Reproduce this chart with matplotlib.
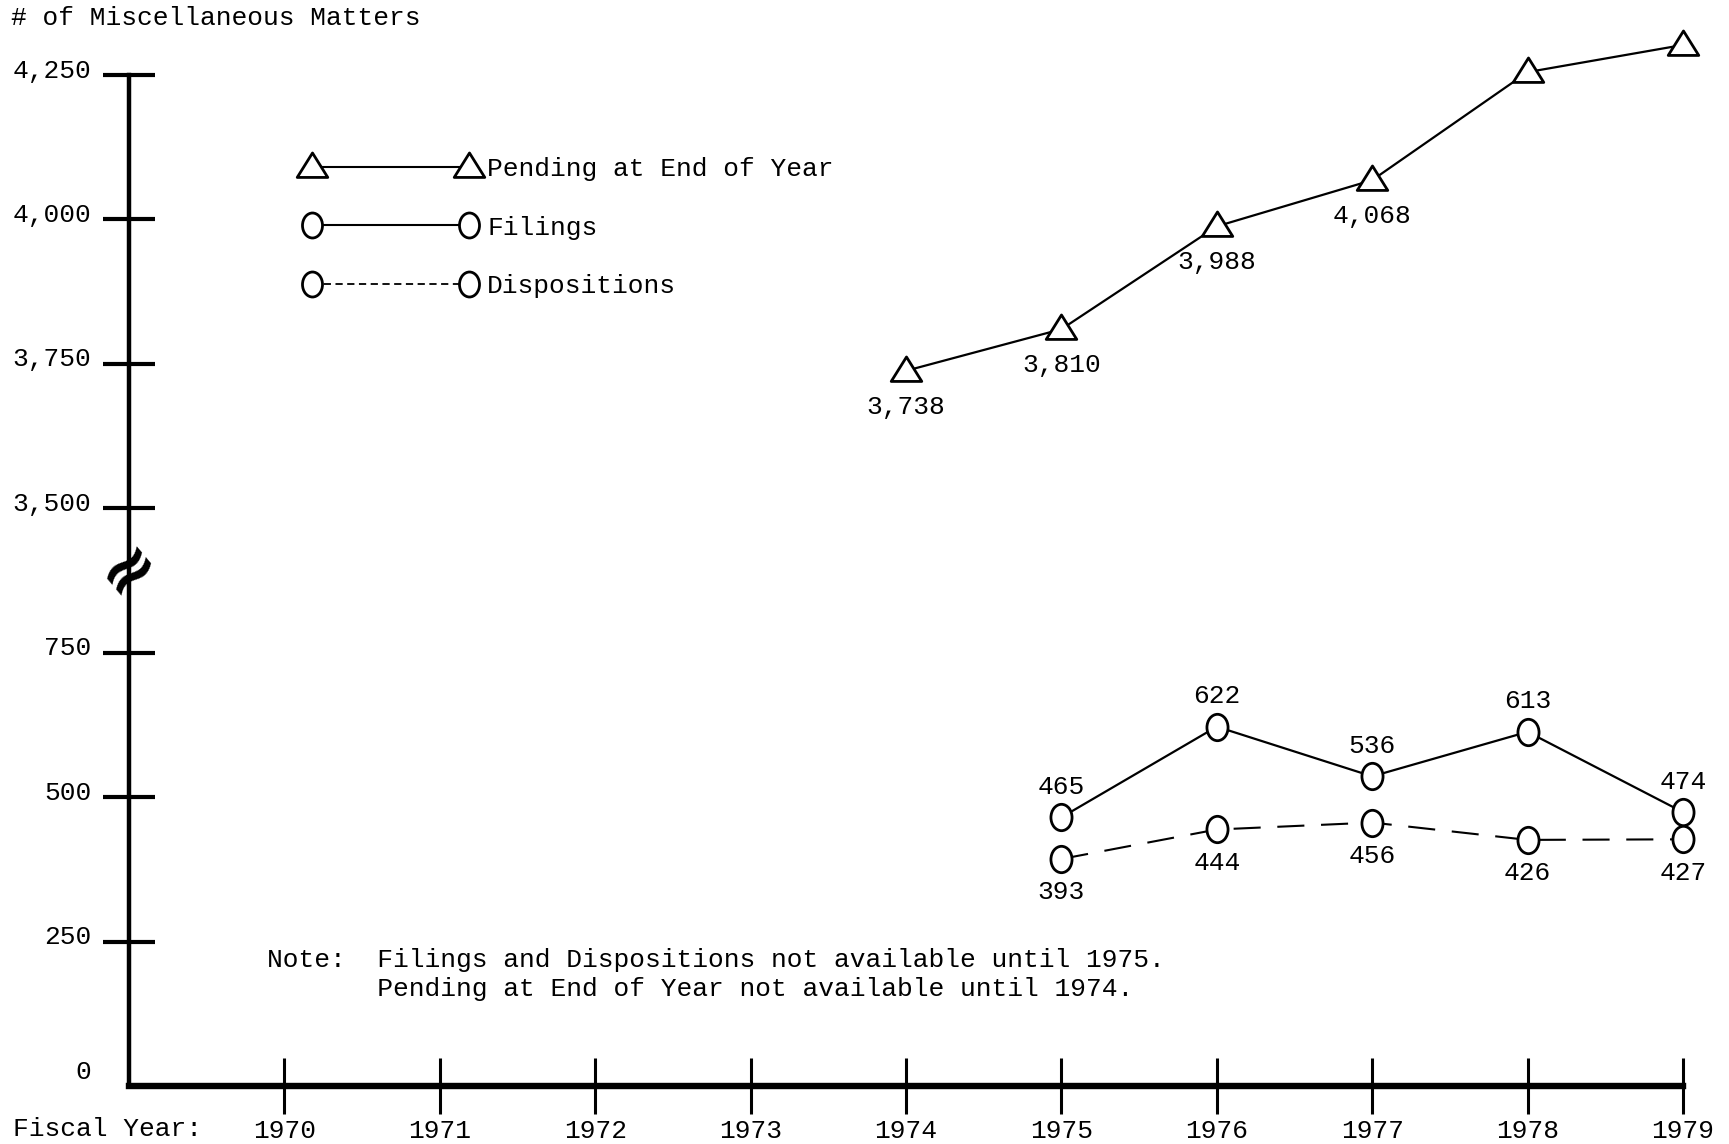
import numpy as np
import matplotlib
matplotlib.use("Agg")
import matplotlib.pyplot as plt
from matplotlib.lines import Line2D
from matplotlib.path import Path
from matplotlib.transforms import ScaledTranslation

# --- data ---
years = [1970, 1971, 1972, 1973, 1974, 1975, 1976, 1977, 1978, 1979]
pending_years = [1974, 1975, 1976, 1977, 1978, 1979]
pending = [3738, 3810, 3988, 4068, 4255, 4302]
fd_years = [1975, 1976, 1977, 1978, 1979]
filings = [465, 622, 536, 613, 474]
dispositions = [393, 444, 456, 426, 427]
ytick_values = [0, 250, 500, 750, 3500, 3750, 4000, 4250]

# values above the break are shifted down so 3,500 sits one step above 750
BREAK_OFFSET = 2500


def to_axis(v):
    return v if v < 1000 else v - BREAK_OFFSET


plt.rcParams["font.family"] = ["Liberation Mono", "DejaVu Sans"]
FS = 18.9

fig = plt.figure(figsize=(17.29, 11.44), dpi=100)
ax = fig.add_axes([129 / 1729, 1 - 1086 / 1144, (1683 - 129) / 1729, (1086 - 75) / 1144])
ax.set_xlim(1969, 1979)
ax.set_ylim(0, 1750)

for s in ("top", "right"):
    ax.spines[s].set_visible(False)
ax.spines["left"].set_linewidth(3.2)
ax.spines["bottom"].set_linewidth(4.6)

# markers: flat open triangle, slightly tall oval
tri = Path([(-1, -0.65), (1, -0.65), (0, 0.95), (-1, -0.65)],
           [Path.MOVETO, Path.LINETO, Path.LINETO, Path.CLOSEPOLY])
circ = Path.unit_circle()
oval = Path(circ.vertices * np.array([0.8, 1.0]), circ.codes)

common = dict(color="black", mfc="white", mec="black", mew=2.0, clip_on=False)
ax.plot(pending_years, [to_axis(v) for v in pending], lw=1.6, marker=tri, ms=22,
        zorder=3, **common)
ax.plot(fd_years, filings, lw=1.6, marker=oval, ms=19, zorder=3, **common)
ax.plot(fd_years, dispositions, lw=1.5, ls=(0, (13, 8)), marker=oval, ms=19,
        zorder=3, **common)

# value labels
for x, v in zip(pending_years, pending):
    ax.annotate(f"{v:,}", (x, to_axis(v)), xytext=(0, -26), textcoords="offset points",
                ha="center", va="center", fontsize=FS)
for x, v in zip(fd_years, filings):
    ax.annotate(f"{v}", (x, v), xytext=(0, 22), textcoords="offset points",
                ha="center", va="center", fontsize=FS)
for x, v in zip(fd_years, dispositions):
    ax.annotate(f"{v}", (x, v), xytext=(0, -24), textcoords="offset points",
                ha="center", va="center", fontsize=FS)

# ticks
ax.set_xticks(years)
ax.set_xticklabels([str(y) for y in years], fontsize=FS)
ax.tick_params(axis="x", direction="inout", length=40, width=2.2, pad=4)
ax.set_yticks([to_axis(v) for v in ytick_values])
ax.set_yticklabels([f"{v:,}" for v in ytick_values], fontsize=FS)
ax.tick_params(axis="y", direction="inout", length=38, width=3.0, pad=8)
ax.yaxis.get_major_ticks()[0].tick1line.set_visible(False)
for i, lab in enumerate(ax.get_yticklabels()):
    lift = ScaledTranslation(0, (12 if i == 0 else 5) / 72, fig.dpi_scale_trans)
    lab.set_transform(lab.get_transform() + lift)

# axis break mark
ax.text(1969, 897, "≈", family="DejaVu Sans", fontsize=50, fontweight="bold",
        rotation=40, ha="center", va="center", clip_on=False, zorder=4)

# legend
handles = [
    Line2D([], [], lw=1.5, marker=tri, ms=22, color="black", mfc="white", mec="black", mew=2.0),
    Line2D([], [], lw=1.5, marker=oval, ms=18, color="black", mfc="white", mec="black", mew=2.0),
    Line2D([], [], lw=1.3, ls=(0, (4, 2.5)), marker=oval, ms=18, color="black",
           mfc="white", mec="black", mew=2.0),
]
ax.legend(handles, ["Pending at End of Year", "Filings", "Dispositions"],
          loc="upper left", bbox_to_anchor=(304 / 1729, 1 - 157 / 1144),
          bbox_transform=fig.transFigure, frameon=False, numpoints=2,
          handlelength=6.6, handletextpad=0.38, labelspacing=1.32,
          borderpad=0, borderaxespad=0, fontsize=FS)

# note
ax.text(1969.89, 193,
        "Note:  Filings and Dispositions not available until 1975.\n"
        "       Pending at End of Year not available until 1974.",
        fontsize=FS, ha="left", va="center", linespacing=1.3)

fig.text(11 / 1729, 1 - 18 / 1144, "# of Miscellaneous Matters", fontsize=FS,
         ha="left", va="center")
fig.text(13 / 1729, 1 - 1129 / 1144, "Fiscal Year:", fontsize=FS, ha="left", va="center")

fig.savefig("out.png", dpi=100, facecolor="white")
